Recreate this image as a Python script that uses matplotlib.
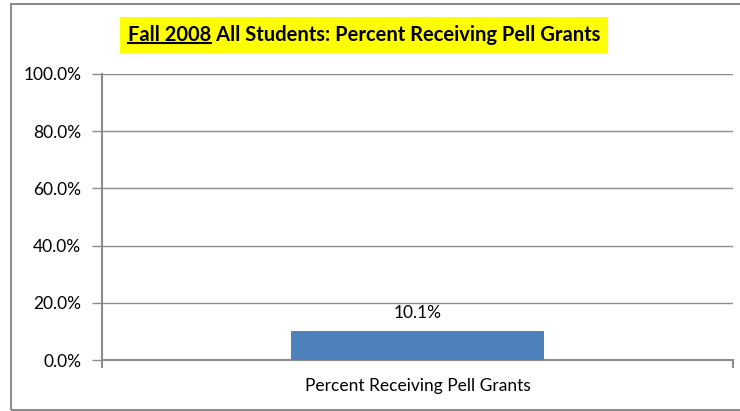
import matplotlib
matplotlib.use("Agg")
from matplotlib import pyplot as plt
from matplotlib.patches import Rectangle
from matplotlib.lines import Line2D
import numpy as np

categories = ["Percent Receiving Pell Grants"]
values = [10.1]
y_ticks = [0, 20, 40, 60, 80, 100]
title_prefix = "Fall 2008"
title_rest = " All Students: Percent Receiving Pell Grants"

plt.rcParams['font.family'] = ['Lato', 'DejaVu Sans']

W, H = 740, 411
fig = plt.figure(figsize=(W / 100, H / 100), dpi=100)
gray = "#8c8c8c"

# outer chart border
fig.patches.append(Rectangle((10.5 / W, 1 - 410 / H), 1.0, (410 - 4.5) / H,
                             transform=fig.transFigure, fill=False,
                             edgecolor=gray, linewidth=1.5, zorder=0))

ax = fig.add_axes([102 / W, (H - 360) / H, (733 - 102) / W, (360 - 74) / H])
x = np.arange(len(categories))
bars = ax.bar(x, values, width=0.4, color="#4f81bd", zorder=3)
ax.set_xlim(-0.5, 0.5)
ax.set_ylim(0, 100)
ax.set_yticks(y_ticks)
ax.set_yticklabels([f"{v:.1f}%" for v in y_ticks], fontsize=12.5)
ax.set_xticks([])
ax.grid(axis="y", color=gray, linewidth=1, zorder=0)
for s in ["top", "right"]:
    ax.spines[s].set_visible(False)
for s in ["left", "bottom"]:
    ax.spines[s].set_color(gray)
    ax.spines[s].set_linewidth(1.5)
ax.tick_params(axis="y", length=7, color=gray, width=1, pad=8)

# category label and end ticks on x axis
ax.text(0, -26 / 286, categories[0], transform=ax.get_xaxis_transform(),
        ha="center", va="center", fontsize=12.5)
for xe in [-0.5, 0.5]:
    ax.add_line(Line2D([xe, xe], [0, -0.025], transform=ax.get_xaxis_transform(),
                       color=gray, linewidth=1.5, clip_on=False))

for b, v in zip(bars, values):
    ax.text(b.get_x() + b.get_width() / 2, v + 3.5, f"{v:.1f}%", ha="center",
            va="bottom", fontsize=12.5)

# title with underlined prefix on yellow background
full = title_prefix + title_rest
t = fig.text(364 / W, 1 - 35 / H, full, ha="center", va="center",
             fontsize=14.5, fontweight="bold",
             bbox=dict(facecolor="yellow", edgecolor="none", pad=6))
fig.canvas.draw()
r = fig.canvas.get_renderer()
tb = t.get_window_extent(r)
tmp = fig.text(0, 0, title_prefix, fontsize=14.5, fontweight="bold")
pw = tmp.get_window_extent(r).width
tmp.remove()
yl = tb.y0 + 2
fig.add_artist(Line2D([tb.x0 / W, (tb.x0 + pw) / W], [yl / H, yl / H],
                      transform=fig.transFigure, color="black", linewidth=1.5,
                      zorder=10))

fig.savefig("out.png", dpi=100)
